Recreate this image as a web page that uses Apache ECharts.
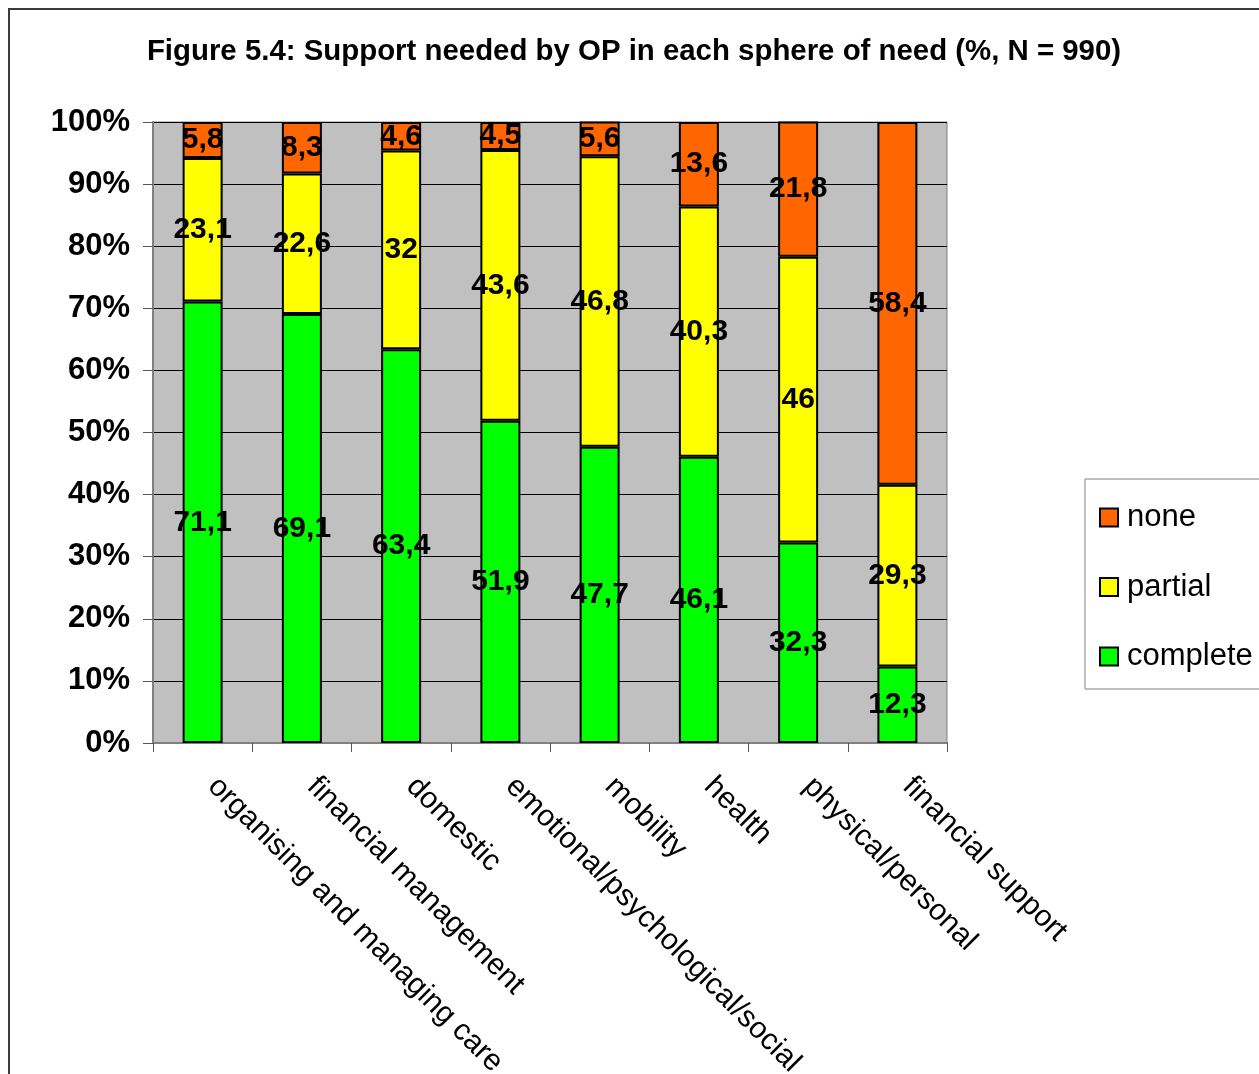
<!DOCTYPE html>
<html>
<head>
<meta charset="utf-8">
<script src="https://cdn.jsdelivr.net/npm/echarts@6/dist/echarts.min.js"></script>
<style>
  html, body { margin: 0; padding: 0; background: #fff; }
  #chart { width: 1259px; height: 1074px; }
</style>
</head>
<body>
<div id="chart"></div>
<script>
// Spheres of need
const categories = [
  'organising and managing care',
  'financial management',
  'domestic',
  'emotional/psychological/social',
  'mobility',
  'health',
  'physical/personal',
  'financial support'
];

// Share of older people (%) by level of support needed
const complete = [71.1, 69.1, 63.4, 51.9, 47.7, 46.1, 32.3, 12.3];
const partial  = [23.1, 22.6, 32.0, 43.6, 46.8, 40.3, 46.0, 29.3];
const none     = [5.8, 8.3, 4.6, 4.5, 5.6, 13.6, 21.8, 58.4];

const yTicks = [0, 10, 20, 30, 40, 50, 60, 70, 80, 90, 100];

const FONT = '"Liberation Sans", Arial, sans-serif';

const fmtComma = v => String(v).replace('.', ',');

function barSeries(name, data, color) {
  return {
    name: name,
    type: 'bar',
    stack: 'total',
    barWidth: 40,
    data: data,
    itemStyle: { color: color, borderColor: '#000', borderWidth: 2 },
    label: {
      show: true,
      position: 'inside',
      formatter: p => fmtComma(p.value),
      color: '#000',
      fontFamily: FONT,
      fontWeight: 'bold',
      fontSize: 30
    },
    emphasis: { disabled: true }
  };
}

const chart = echarts.init(document.getElementById('chart'), null, { renderer: 'canvas' });

chart.setOption({
  animation: false,
  backgroundColor: '#fff',
  graphic: [{
    type: 'rect',
    shape: { x: 9, y: 9, width: 1320, height: 1120 },
    style: { fill: null, stroke: '#3a3a3a', lineWidth: 2 },
    silent: true,
    z: -1
  }],
  title: {
    text: 'Figure 5.4: Support needed by OP in each sphere of need (%, N = 990)',
    left: 629,
    top: 30,
    textAlign: 'center',
    textStyle: {
      fontFamily: FONT,
      fontWeight: 'bold',
      fontSize: 29.4,
      color: '#000',
      lineHeight: 34
    }
  },
  legend: {
    data: ['none', 'partial', 'complete'],
    orient: 'vertical',
    left: 1085,
    top: 479,
    padding: [23, 80, 17, 14],
    itemGap: 38.5,
    itemWidth: 18,
    itemHeight: 18,
    itemStyle: { borderColor: '#000', borderWidth: 2 },
    icon: 'rect',
    borderColor: '#808080',
    borderWidth: 1,
    textStyle: {
      fontFamily: FONT,
      fontSize: 31,
      color: '#000',
      lineHeight: 30,
      padding: [0, 0, 0, 4]
    }
  },
  grid: {
    left: 153,
    top: 122,
    width: 794,
    height: 621,
    outerBoundsMode: 'none',
    containLabel: false,
    show: true,
    backgroundColor: '#C0C0C0',
    borderColor: '#808080',
    borderWidth: 1
  },
  xAxis: {
    type: 'category',
    data: categories,
    axisLine: { show: true, lineStyle: { color: '#808080', width: 2 } },
    axisTick: { show: true, length: 9, lineStyle: { color: '#555' } },
    axisLabel: {
      interval: 0,
      rotate: -45,
      margin: 29,
      padding: [0, 0, 0, 14],
      fontFamily: FONT,
      fontSize: 30,
      color: '#000'
    },
    splitLine: { show: false }
  },
  yAxis: {
    type: 'value',
    min: yTicks[0],
    max: yTicks[yTicks.length - 1],
    interval: 10,
    axisLine: { show: true, lineStyle: { color: '#808080', width: 2 } },
    axisTick: { show: true, length: 10, lineStyle: { color: '#555' } },
    axisLabel: {
      margin: 23,
      formatter: '{value}%',
      fontFamily: FONT,
      fontWeight: 'bold',
      fontSize: 31,
      color: '#000'
    },
    splitLine: { show: true, lineStyle: { color: '#000', width: 1 } }
  },
  series: [
    barSeries('complete', complete, '#00FF00'),
    barSeries('partial', partial, '#FFFF00'),
    barSeries('none', none, '#FF6600')
  ]
});
</script>
</body>
</html>
